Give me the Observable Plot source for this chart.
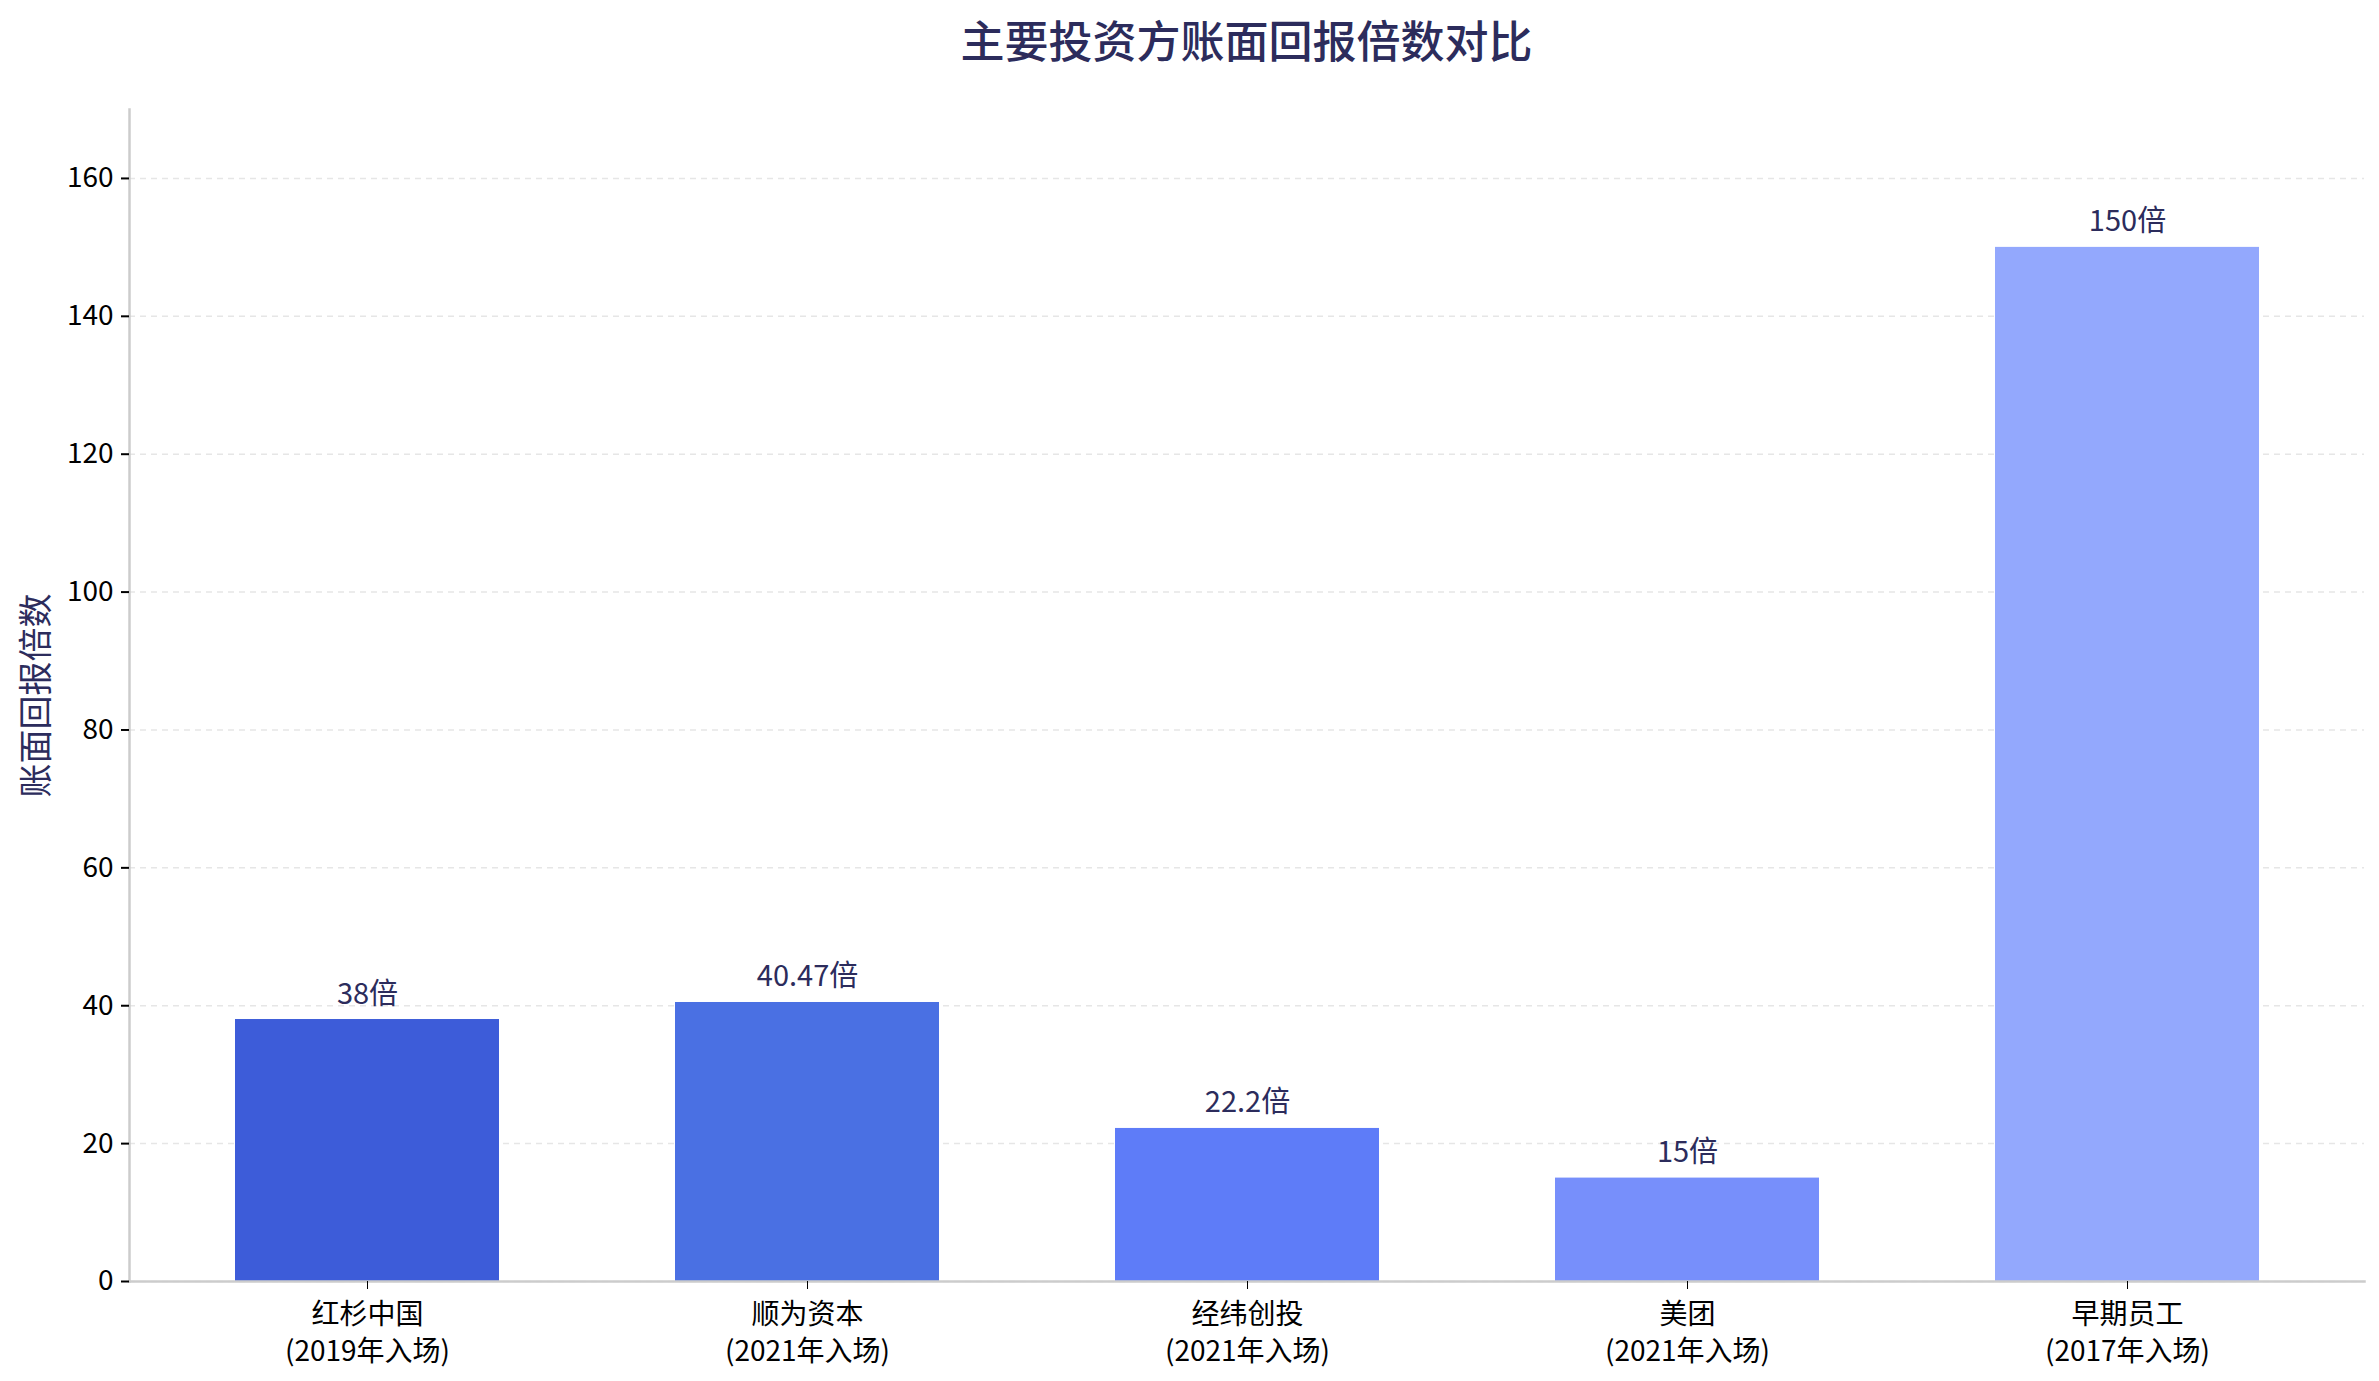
<!DOCTYPE html>
<html>
<head>
<meta charset="utf-8">
<script src="https://cdn.jsdelivr.net/npm/d3@7"></script>
<script src="https://cdn.jsdelivr.net/npm/@observablehq/plot@0.6"></script>
<style>
  html, body { margin: 0; padding: 0; background: #fff; }
  body { width: 2379px; height: 1381px; overflow: hidden; font-family: "Noto Sans CJK SC", sans-serif; }
  #title { height: 70px; line-height: 78px; text-align: center; font-size: 44px; font-weight: 500; color: #2c2c5c; padding-left: 114px; box-sizing: border-box; }
</style>
</head>
<body>
<div id="title">主要投资方账面回报倍数对比</div>
<div id="chart"></div>
<script>
const investors = ["红杉中国", "顺为资本", "经纬创投", "美团", "早期员工"];
const entryYears = ["2019", "2021", "2021", "2021", "2017"];
const returns = [38, 40.47, 22.2, 15, 150];
const valueLabels = ["38倍", "40.47倍", "22.2倍", "15倍", "150倍"];
const barColors = ["#3d5cd9", "#4a70e3", "#5e7cf8", "#778ffb", "#93a8fd"];
const yTicks = [0, 20, 40, 60, 80, 100, 120, 140, 160];

const data = investors.map((name, i) => ({
  name, year: entryYears[i], value: returns[i], label: valueLabels[i], color: barColors[i]
}));
const tickText = new Map(data.map(d => [d.name, `${d.name}\n(${d.year}年入场)`]));

const chart = Plot.plot({
  width: 2379,
  height: 1311,
  marginTop: 39,
  marginBottom: 100,
  marginLeft: 129,
  marginRight: 15,
  style: { fontFamily: '"Noto Sans CJK SC", sans-serif', background: "#fff" },
  x: { domain: investors, paddingInner: 0.4, paddingOuter: 0.235, label: null },
  y: { domain: [0, 170], label: null },
  marks: [
    Plot.gridY(yTicks, { stroke: "#e6e6e6", strokeOpacity: 1, strokeDasharray: "6,5", strokeWidth: 1.5 }),
    Plot.barY(data, { x: "name", y: "value", fill: "color" }),
    Plot.frame({ anchor: "bottom", stroke: "#cccccc", strokeWidth: 2.5 }),
    Plot.frame({ anchor: "left", stroke: "#cccccc", strokeWidth: 2.5 }),
    Plot.axisY({ ticks: yTicks, tickSize: 8, tickPadding: 8, fontSize: 28, stroke: "#000", fill: "#000", strokeWidth: 2, label: null }),
    Plot.axisX({ tickSize: 8, tickPadding: 9, fontSize: 28, fill: "#000", lineHeight: 1.3, tickFormat: d => tickText.get(d), label: null }),
    Plot.text(data, { x: "name", y: "value", text: "label", lineAnchor: "bottom", dy: -16, fontSize: 29, fill: "#2c2c5c" }),
    Plot.text(["账面回报倍数"], { frameAnchor: "left", textAnchor: "middle", dx: -92, rotate: -90, fontSize: 34, fill: "#2c2c5c" })
  ]
});
document.getElementById("chart").appendChild(chart);
</script>
</body>
</html>
